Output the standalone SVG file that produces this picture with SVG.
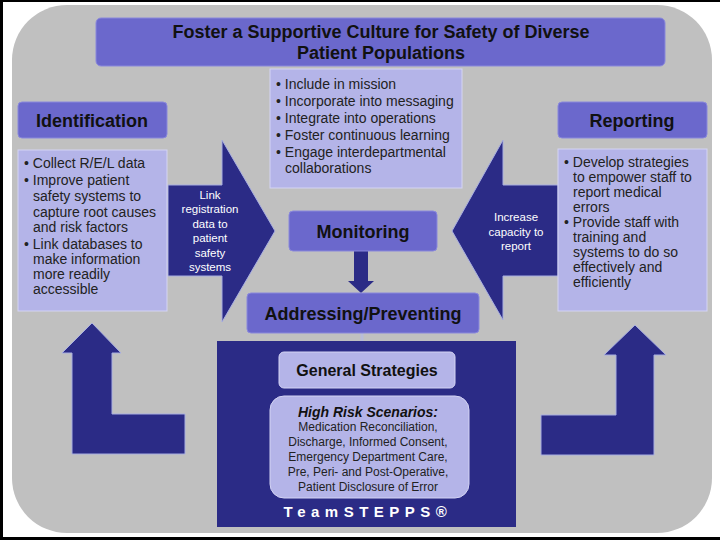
<svg xmlns="http://www.w3.org/2000/svg" width="720" height="540" viewBox="0 0 720 540">
<style>
.hdr{fill:#6b68cc;stroke:#8a88dc;stroke-width:1}
.lt{fill:#b4b4e8;stroke:#d4d4f4;stroke-width:1}
.navy{fill:#2b2b86}
.arr{fill:#2b2b86;stroke:#a8aee0;stroke-width:1}
.ht{font-family:"Liberation Sans",Arial,sans-serif;font-weight:bold;font-size:18px;fill:#111;text-anchor:middle}
.bt{font-family:"Liberation Sans",Arial,sans-serif;font-size:14px;fill:#222}
.wt{font-family:"Liberation Sans",Arial,sans-serif;font-size:11.5px;fill:#fff;text-anchor:middle}
.st{font-family:"Liberation Sans",Arial,sans-serif;font-size:12px;fill:#222;text-anchor:middle}
</style>
<rect x="0" y="0" width="720" height="540" fill="#fff"/>
<path d="M0,0.5 H720 M1.5,0 V540 M0,538.5 H720" stroke="#000" stroke-width="3" fill="none"/>
<rect x="12" y="5" width="700" height="528" rx="55" fill="#c0c0c0"/>

<g id="connectors">
  <polygon class="arr" points="168,185 222,185 222,140 275,231 222,322 222,276 168,276"/>
  <polygon class="arr" points="558,185 503,185 503,140 452,231 503,320 503,276 558,276"/>
  <polygon class="navy" points="354,251 368,251 368,281 374,281 361,293 348,281 354,281"/>
  <polygon class="arr" points="92,323 121,353 112,353 112,414 185,414 185,454 72,454 72,353 62,353"/>
  <polygon class="arr" points="635,325 666,355 654,355 654,455 541,455 541,415 616,415 616,355 604,355"/>
  <line x1="362" y1="333" x2="362" y2="352" stroke="#b8bcd8" stroke-width="3"/>
  <line x1="362" y1="388" x2="362" y2="396" stroke="#b8bcd8" stroke-width="3"/>
</g>

<g id="title">
  <rect class="hdr" x="96" y="18" width="569" height="48" rx="5"/>
  <text class="ht" x="381" y="38">Foster a Supportive Culture for Safety of Diverse</text>
  <text class="ht" x="381" y="59">Patient Populations</text>
</g>

<g id="culture">
  <rect class="lt" x="270" y="69" width="192" height="119"/>
  <text class="bt" x="276" y="89">• Include in mission</text>
  <text class="bt" x="276" y="106">• Incorporate into messaging</text>
  <text class="bt" x="276" y="123">• Integrate into operations</text>
  <text class="bt" x="276" y="140">• Foster continuous learning</text>
  <text class="bt" x="276" y="157">• Engage interdepartmental</text>
  <text class="bt" x="285" y="173">collaborations</text>
</g>

<g id="identification">
  <rect class="hdr" x="18" y="102" width="149" height="36" rx="4"/>
  <text class="ht" x="92" y="127">Identification</text>
</g>

<g id="identification-list">
  <rect class="lt" x="18" y="150" width="149" height="161"/>
  <text class="bt" x="24" y="168">• Collect R/E/L data</text>
  <text class="bt" x="24" y="185">• Improve patient</text>
  <text class="bt" x="33" y="201">safety systems to</text>
  <text class="bt" x="33" y="217">capture root causes</text>
  <text class="bt" x="33" y="232">and risk factors</text>
  <text class="bt" x="24" y="249">• Link databases to</text>
  <text class="bt" x="33" y="264">make information</text>
  <text class="bt" x="33" y="279">more readily</text>
  <text class="bt" x="33" y="294">accessible</text>
</g>

<g id="link-label">
  <text class="wt" x="210" y="199">Link</text>
  <text class="wt" x="210" y="213">registration</text>
  <text class="wt" x="210" y="228">data to</text>
  <text class="wt" x="210" y="242">patient</text>
  <text class="wt" x="210" y="257">safety</text>
  <text class="wt" x="210" y="271">systems</text>
</g>

<g id="increase-label">
  <text class="wt" x="516" y="221">Increase</text>
  <text class="wt" x="516" y="236">capacity to</text>
  <text class="wt" x="516" y="250">report</text>
</g>

<g id="reporting">
  <rect class="hdr" x="558" y="102" width="149" height="36" rx="4"/>
  <text class="ht" x="632" y="127">Reporting</text>
</g>

<g id="reporting-list">
  <rect class="lt" x="558" y="149" width="149" height="162"/>
  <text class="bt" x="564" y="167">• Develop strategies</text>
  <text class="bt" x="573" y="182">to empower staff to</text>
  <text class="bt" x="573" y="197">report medical</text>
  <text class="bt" x="573" y="212">errors</text>
  <text class="bt" x="564" y="227">• Provide staff with</text>
  <text class="bt" x="573" y="242">training and</text>
  <text class="bt" x="573" y="257">systems to do so</text>
  <text class="bt" x="573" y="272">effectively and</text>
  <text class="bt" x="573" y="287">efficiently</text>
</g>

<g id="monitoring">
  <rect class="hdr" x="289" y="211" width="148" height="40" rx="4"/>
  <text class="ht" x="363" y="238">Monitoring</text>
</g>

<g id="addressing">
  <rect class="hdr" x="247" y="293" width="232" height="40" rx="4"/>
  <text class="ht" x="363" y="320">Addressing/Preventing</text>
</g>

<g id="teamstepps">
  <rect class="navy" x="217" y="341" width="299" height="186"/>
  <text x="368" y="517" font-family="'Liberation Sans',Arial,sans-serif" font-weight="bold" font-size="15" fill="#fff" text-anchor="middle" letter-spacing="5.5">TeamSTEPPS®</text>
</g>

<g id="general">
  <rect class="lt" x="279" y="352" width="176" height="36" rx="5"/>
  <text class="ht" x="367" y="376" style="font-size:16px">General Strategies</text>
</g>

<g id="highrisk">
  <rect class="lt" x="270" y="396" width="199" height="102" rx="14"/>
  <text x="368" y="417" font-family="'Liberation Sans',Arial,sans-serif" font-weight="bold" font-style="italic" font-size="14" fill="#111" text-anchor="middle">High Risk Scenarios:</text>
  <text class="st" x="368" y="431">Medication Reconciliation,</text>
  <text class="st" x="368" y="446">Discharge, Informed Consent,</text>
  <text class="st" x="368" y="461">Emergency Department Care,</text>
  <text class="st" x="368" y="476">Pre, Peri- and Post-Operative,</text>
  <text class="st" x="368" y="491">Patient Disclosure of Error</text>
</g>
</svg>
